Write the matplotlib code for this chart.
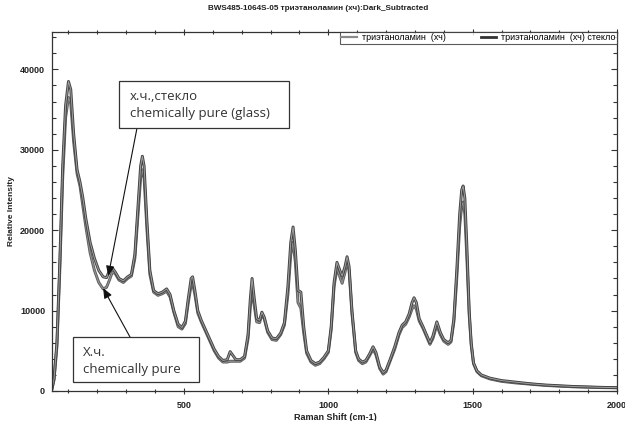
import matplotlib
matplotlib.use("Agg")
from matplotlib import pyplot as plt
from matplotlib import patheffects as pe
from matplotlib.patches import Rectangle
from matplotlib.ticker import MultipleLocator


shift = [43, 50, 60, 70, 80, 90, 100, 108, 118, 130, 140, 150, 160, 175, 190,
         205, 220, 232, 242, 252, 262, 275, 290, 305, 318, 330, 340, 350, 356,
         362, 372, 382, 395, 410, 425, 440, 452, 465, 480, 493, 505, 515, 525,
         530, 538, 548, 560, 575, 590, 605, 620, 635, 650, 660, 668, 680, 695,
         710, 722, 730, 736, 742, 752, 762, 770, 778, 790, 805, 820, 835, 848,
         860, 870, 878, 886, 895, 905, 915, 925, 940, 955, 970, 985, 1000,
         1010, 1020, 1030, 1040, 1048, 1058, 1065, 1072, 1082, 1095, 1105,
         1118, 1130, 1143, 1155, 1165, 1178, 1190, 1200, 1215, 1230, 1245,
         1256, 1268, 1280, 1290, 1297, 1305, 1315, 1328, 1340, 1352, 1362,
         1376, 1388, 1400, 1415, 1425, 1435, 1445, 1455, 1462, 1467, 1473,
         1480, 1488, 1495, 1503, 1515, 1530, 1560, 1600, 1650, 1700, 1750,
         1800, 1850, 1900, 1950, 2000]

# триэтаноламин (хч) стекло
glass = [300, 1500, 6000, 16000, 28000, 35500, 38500, 37500, 32000, 27500,
         26000, 24000, 21500, 18500, 16500, 15000, 14200, 14100, 15000, 15300,
         14800, 14000, 13700, 14200, 14500, 17000, 22500, 28000, 29200, 28000,
         21000, 15000, 12500, 12100, 12300, 12700, 12000, 10000, 8300, 7900,
         8700, 11500, 14000, 14200, 12500, 10000, 8800, 7600, 6400, 5200, 4300,
         3800, 3900, 4900, 4500, 3900, 3900, 4300, 7000, 11500, 14000, 12000,
         9000, 8800, 9800, 9200, 7500, 6600, 6500, 7200, 8500, 13000, 18500,
         20400, 17500, 12500, 12300, 8000, 5000, 3800, 3400, 3600, 4200, 5000,
         8000, 13500, 16000, 15000, 14300, 15500, 16700, 15500, 10000, 5000,
         4000, 3600, 3800, 4600, 5500, 4800, 3000, 2300, 2600, 4000, 5500,
         7300, 8200, 8600, 9600, 11000, 11600, 11000, 9000, 8000, 7000, 6000,
         6800, 8600, 7300, 6400, 6000, 6300, 9000, 15000, 22000, 25000, 25500,
         24000, 18000, 10000, 6000, 3500, 2500, 2000, 1600, 1300, 1100, 900,
         750, 650, 560, 500, 450, 420]

# триэтаноламин (хч)
pure = [300, 1400, 5500, 15000, 26500, 34000, 36500, 35800, 31000, 27000,
        25500, 23000, 20500, 17200, 15000, 13500, 12700, 12900, 13800, 14800,
        14600, 13800, 13500, 14000, 14300, 16500, 21500, 26500, 27500, 26500,
        20000, 14500, 12300, 11900, 12100, 12400, 11700, 9800, 8000, 7700,
        8400, 11000, 13200, 13400, 12000, 9700, 8600, 7400, 6200, 5000, 4100,
        3600, 3600, 3700, 3700, 3700, 3700, 4100, 6500, 10500, 12500, 11000,
        8600, 8500, 9500, 9000, 7300, 6400, 6300, 7000, 8200, 12000, 17000,
        18500, 16000, 11000, 10300, 7200, 4700, 3600, 3200, 3400, 4000, 4800,
        7600, 13000, 15300, 14200, 13400, 14800, 16000, 15000, 9600, 4800,
        3800, 3400, 3600, 4400, 5200, 4500, 2800, 2100, 2400, 3800, 5200,
        7000, 7900, 8300, 9200, 10200, 10600, 10200, 8700, 7800, 6800, 5800,
        6500, 8200, 7000, 6200, 5800, 6100, 8600, 14000, 20500, 23000, 23500,
        22000, 16500, 9500, 5700, 3400, 2400, 1900, 1500, 1200, 1000, 850,
        700, 600, 520, 470, 420, 400]

narrow = ["Liberation Sans Narrow", "Liberation Sans", "DejaVu Sans"]

fig = plt.figure(figsize=(6.25, 4.21), dpi=100)
ax = fig.add_axes([52 / 625, 30 / 421, 565 / 625, 359 / 421])

ax.plot(shift, pure, color="#8f8f8f", lw=0.9, label="триэтаноламин  (хч)",
        path_effects=[pe.Stroke(linewidth=2.1, foreground="#5a5a5a"), pe.Normal()])
ax.plot(shift, glass, color="#444444", lw=0.9, label="триэтаноламин  (хч) стекло",
        path_effects=[pe.Stroke(linewidth=2.1, foreground="#444444"),
                      pe.Stroke(linewidth=0.7, foreground="#a0a0a0")])

ax.set_xlim(43, 2000)
ax.set_ylim(0, 44650)
ax.xaxis.set_major_locator(MultipleLocator(500))
ax.xaxis.set_minor_locator(MultipleLocator(100))
ax.yaxis.set_major_locator(MultipleLocator(10000))
ax.yaxis.set_minor_locator(MultipleLocator(2000))
ax.tick_params(which="both", direction="in", top=True, right=True,
               color="#333333", width=0.8)
ax.tick_params(which="major", length=4, labelsize=6.5, pad=5)
ax.tick_params(which="minor", length=3)
ax.tick_params(axis="x", which="both", direction="inout")
for lab in ax.get_xticklabels() + ax.get_yticklabels():
    lab.set_family(narrow)
    lab.set_fontweight("bold")
    lab.set_color("#222222")
for s in ax.spines.values():
    s.set_color("#333333")
    s.set_linewidth(0.9)

ax.set_ylabel("Relative Intensity", family=narrow, fontweight="bold",
              fontsize=6, color="#222222")
ax.yaxis.set_label_coords(-37 / 565, 0.5)
fig.text(335 / 625, 4 / 421, "Raman Shift (cm-1)", family=narrow,
         fontweight="bold", fontsize=6.5, ha="center", va="center",
         color="#222222")
fig.text(318 / 625, 412 / 421,
         "BWS485-1064S-05 триэтаноламин (хч):Dark_Subtracted",
         family=narrow, fontweight="bold", fontsize=5.9, ha="center",
         va="center", color="#222222")

leg = ax.legend(loc="upper right", bbox_to_anchor=(1.0, 1.0), ncol=2,
                frameon=True, fancybox=False, borderpad=0.15,
                handlelength=1.7, handletextpad=0.55, columnspacing=3.9,
                borderaxespad=0, prop={"family": narrow, "size": 6.5})
leg.get_frame().set_edgecolor("#333333")
leg.get_frame().set_linewidth(0.8)
for h, c, w in zip(leg.legend_handles, ["#8a8a8a", "#333333"], [1.6, 2.0]):
    h.set_path_effects([])
    h.set_color(c)
    h.set_linewidth(w)

# callout boxes
fig.add_artist(Rectangle((119 / 625, 293 / 421), 170 / 625, 47 / 421,
                         transform=fig.transFigure, facecolor="white",
                         edgecolor="#333333", lw=0.9, zorder=5))
fig.add_artist(Rectangle((73 / 625, 39 / 421), 126 / 625, 45 / 421,
                         transform=fig.transFigure, facecolor="white",
                         edgecolor="#333333", lw=0.9, zorder=5))
note = dict(family="Open Sans", fontsize=9.5, color="#333333", va="center",
            ha="left", zorder=6)
fig.text(130 / 625, 325 / 421, "х.ч.,стекло", **note)
fig.text(130 / 625, 307 / 421, "chemically pure (glass)", **note)
fig.text(83 / 625, 69 / 421, "Х.ч.", **note)
fig.text(83 / 625, 51 / 421, "chemically pure", **note)

arrow = dict(arrowstyle="-|>,head_length=0.6,head_width=0.25", color="#111111",
             lw=0.8, shrinkA=0, shrinkB=0)
ax.annotate("", xy=(238, 14300), xytext=(137, 293), textcoords="figure pixels",
            arrowprops=arrow, zorder=6)
ax.annotate("", xy=(220, 12800), xytext=(130, 84), textcoords="figure pixels",
            arrowprops=arrow, zorder=6)

fig.savefig("out.png", dpi=100)
